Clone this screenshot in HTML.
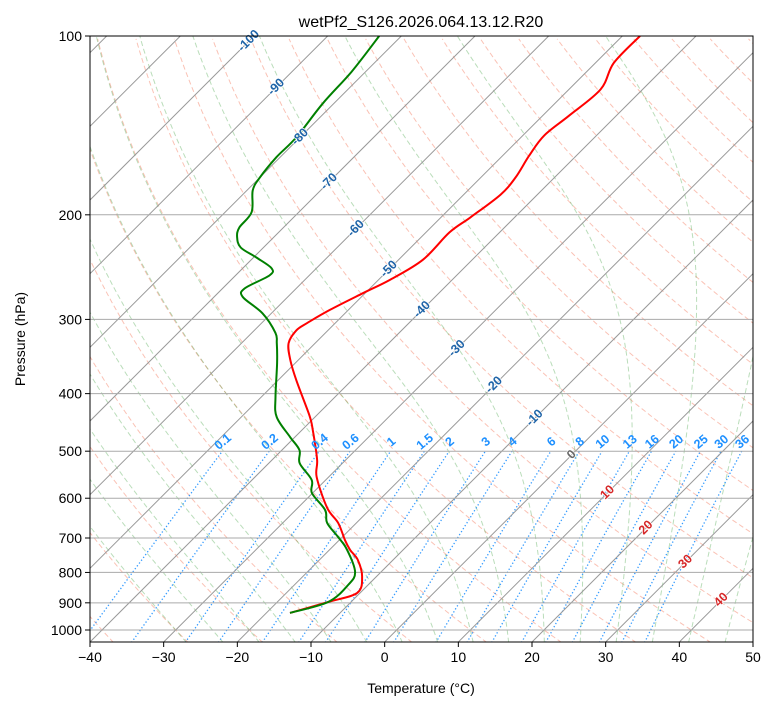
<!DOCTYPE html>
<html><head><meta charset="utf-8">
<style>
body{margin:0;background:#fff;}
svg{display:block;font-family:"Liberation Sans","DejaVu Sans",sans-serif;}
</style></head>
<body>
<svg id="chart" width="775" height="708" viewBox="0 0 775 708" xmlns="http://www.w3.org/2000/svg">
<defs><clipPath id="clip"><rect x="90" y="36" width="663" height="606"/></clipPath></defs>
<rect width="775" height="708" fill="#fff"/>
<g id="bg" clip-path="url(#clip)"></g>
<g id="series" clip-path="url(#clip)"></g>
<g id="labels"></g>
<rect x="90" y="36" width="663" height="606" fill="none" stroke="#000" stroke-width="1"/>
<g id="axes"></g>
<text x="421" y="27" text-anchor="middle" font-size="16">wetPf2_S126.2026.064.13.12.R20</text>
<text x="421" y="693" text-anchor="middle" font-size="14">Temperature (°C)</text>
<text x="25" y="339" text-anchor="middle" font-size="14" transform="rotate(-90 25 339)">Pressure (hPa)</text>
</svg>
<script>
const tempP=[936,897,866,814,762,733,706,660,623,553,517,461,435,380,351,329,313,304,289,271,257,238,214,202,185,173,159,147,136,123,111,100];
const tempT=[-16.8,-13.1,-10.4,-11.9,-14.8,-17.2,-19.2,-22.5,-26.0,-31.6,-33.9,-38.5,-41.0,-47.5,-51.1,-53.6,-54.3,-53.8,-52.5,-50.3,-48.4,-46.7,-46.8,-46.0,-45.0,-45.3,-46.4,-47.1,-46.4,-45.7,-47.5,-47.6];
const dewP=[936,897,840,799,733,697,660,628,588,559,524,498,473,438,405,355,329,316,293,275,266,253,246,236,227,218,210,198,182,173,160,148,130,115,100];
const dewT=[-16.8,-13.1,-12.7,-13.5,-17.6,-20.6,-24.0,-26.0,-30.1,-31.9,-35.8,-37.6,-40.7,-45.2,-48.1,-52.5,-55.2,-56.8,-61.2,-66.1,-67.0,-65.4,-66.1,-69.6,-73.1,-75.0,-76.0,-76.4,-79.2,-80.0,-80.5,-80.5,-81.5,-81.9,-83.0];
const xTicks=[-40,-30,-20,-10,0,10,20,30,40,50];
const yTicks=[100,200,300,400,500,600,700,800,900,1000];
const mixRatios=[0.1,0.2,0.4,0.6,1,1.5,2,3,4,6,8,10,13,16,20,25,30,36];
const isoLabels=[-100,-90,-80,-70,-60,-50,-40,-30,-20,-10,0,10,20,30,40];
const isoLabelP=[102,122,148,176,211,247,289,336,387,440,507,587,673,768,890];

const NS="http://www.w3.org/2000/svg";
const X0=90,Y0=36,YB=642,PX=663/90;
function yP(p){return Y0+594*(Math.log10(p)-2);}
function xT(T,p){return X0+(T+40)*PX+(YB-yP(p));}
function mk(tag,attrs,parent){const e=document.createElementNS(NS,tag);for(const k in attrs)e.setAttribute(k,attrs[k]);parent.appendChild(e);return e;}
function pathD(pts){return pts.map((q,i)=>(i?"L":"M")+q[0].toFixed(1)+","+q[1].toFixed(1)).join("");}
function smoothD(pts){let d="M"+pts[0][0].toFixed(1)+","+pts[0][1].toFixed(1);
  for(let i=0;i<pts.length-1;i++){const p0=pts[Math.max(0,i-1)],p1=pts[i],p2=pts[i+1],p3=pts[Math.min(pts.length-1,i+2)];
    const c1=[p1[0]+(p2[0]-p0[0])/6,p1[1]+(p2[1]-p0[1])/6],c2=[p2[0]-(p3[0]-p1[0])/6,p2[1]-(p3[1]-p1[1])/6];
    d+=`C${c1[0].toFixed(1)},${c1[1].toFixed(1)} ${c2[0].toFixed(1)},${c2[1].toFixed(1)} ${p2[0].toFixed(1)},${p2[1].toFixed(1)}`;}
  return d;}
const bg=document.getElementById('bg'),ser=document.getElementById('series'),lab=document.getElementById('labels'),ax=document.getElementById('axes');
const pres=[];for(let lp=Math.log(1050);lp>=Math.log(100)-1e-9;lp-=0.02)pres.push(Math.exp(lp));
// dry adiabats
for(let t0=-40;t0<=200;t0+=10){
  const th=t0+273.15;
  const pts=pres.map(p=>[xT(th*Math.pow(p/1000,0.2857)-273.15,p),yP(p)]);
  const e=mk('path',{d:pathD(pts),fill:'none',stroke:'#f4775a','stroke-opacity':0.45,'stroke-width':1,'stroke-dasharray':'5,3'},bg);
  
  
}
// moist adiabats
function es(Tc){return 6.112*Math.exp(17.67*Tc/(Tc+243.5));}
function dTdlnp(T,p){const Tc=T-273.15;const e=es(Tc);const rs=0.622*e/(p-e);const Rd=287.04,Cp=1005.7,Lv=2.501e6;
  return (Rd*T+Lv*rs)/(Cp+Lv*Lv*rs*0.622/(Rd*T*T));}
function integ(T0,pStart,pEnd,n){const out=[];let T=T0,lp=Math.log(pStart);const h=(Math.log(pEnd)-lp)/n;
  out.push([T,Math.exp(lp)]);
  for(let i=0;i<n;i++){const p=Math.exp(lp);
    const k1=dTdlnp(T,p),k2=dTdlnp(T+h*k1/2,Math.exp(lp+h/2)),k3=dTdlnp(T+h*k2/2,Math.exp(lp+h/2)),k4=dTdlnp(T+h*k3,Math.exp(lp+h));
    T+=h*(k1+2*k2+2*k3+k4)/6;lp+=h;out.push([T,Math.exp(lp)]);}
  return out;}
for(let t0=-30;t0<=45;t0+=5){
  const up=integ(t0+273.15,1000,100,120),dn=integ(t0+273.15,1000,1050,5);
  const all=dn.reverse().concat(up.slice(1));
  const pts=all.map(q=>[xT(q[0]-273.15,q[1]),yP(q[1])]);
  const e=mk('path',{d:pathD(pts),fill:'none',stroke:'#3a9d3a','stroke-opacity':0.35,'stroke-width':1,'stroke-dasharray':'5,3'},bg);
  
  
}
// mixing ratio lines
function tdW(w,p){const e=w*p/(0.622+w);const l=Math.log(e/6.112);return 243.5*l/(17.67-l);}
mixRatios.forEach(w=>{
  const pts=[];for(let p=1050;p>=500;p-=10)pts.push([xT(tdW(w/1000,p),p),yP(p)]);
  const e=mk('path',{d:pathD(pts),fill:'none',stroke:'#1e90ff','stroke-opacity':0.9,'stroke-width':1.3,'stroke-dasharray':'1.3,2.2'},bg);
  
  
  const lx=xT(tdW(w/1000,500),500)+1,ly=yP(500)-9;
  const t=mk('text',{x:lx,y:ly,'text-anchor':'middle','dominant-baseline':'middle','font-size':12.5,'font-weight':'bold',fill:'#1e90ff',transform:`rotate(-40 ${lx} ${ly})`},lab);
  t.textContent=String(w);
  
  
});
// isotherms
for(let T=-130;T<=50;T+=10){
  const e=mk('line',{x1:xT(T,1050),y1:yP(1050),x2:xT(T,100),y2:yP(100),stroke:'#999','stroke-width':1},bg);
  
  
}
// horizontal grid
yTicks.forEach(p=>{
  const e=mk('line',{x1:X0,x2:753,y1:yP(p),y2:yP(p),stroke:'#aaa','stroke-width':1},bg);
  
  
});
// isotherm labels
isoLabels.forEach((T,i)=>{
  const p=isoLabelP[i];const lx=xT(T,p),ly=yP(p);
  const col=T<0?'#1f64a8':(T===0?'#666':'#d62728');
  const t=mk('text',{x:lx,y:ly,'text-anchor':'middle','dominant-baseline':'middle','font-size':12.5,'font-weight':'bold',fill:col,stroke:'#fff','stroke-width':1.5,'paint-order':'stroke',transform:`rotate(-45 ${lx} ${ly})`},lab);
  t.textContent=String(T);
  
  
});
// profiles
const tl=mk('path',{d:smoothD(tempP.map((p,i)=>[xT(tempT[i],p),yP(p)])),fill:'none',stroke:'#ff0000','stroke-width':2,'stroke-linejoin':'round'},ser);


const dl=mk('path',{d:smoothD(dewP.map((p,i)=>[xT(dewT[i],p),yP(p)])),fill:'none',stroke:'#008000','stroke-width':2,'stroke-linejoin':'round'},ser);


// axes ticks
xTicks.forEach(T=>{
  const x=X0+(T+40)*PX;
  const l=mk('line',{x1:x,x2:x,y1:YB,y2:YB+5,stroke:'#000'},ax);
  
  
  const t=mk('text',{x:x,y:YB+20,'text-anchor':'middle','font-size':14},ax);
  t.textContent=T<0?'\u2212'+(-T):String(T);
  
  
});
yTicks.forEach(p=>{
  const y=yP(p);
  const l=mk('line',{x1:X0-5,x2:X0,y1:y,y2:y,stroke:'#000'},ax);
  
  
  const t=mk('text',{x:X0-8,y:y+5,'text-anchor':'end','font-size':14},ax);
  t.textContent=String(p);
  
  
});
</script>
</body></html>
